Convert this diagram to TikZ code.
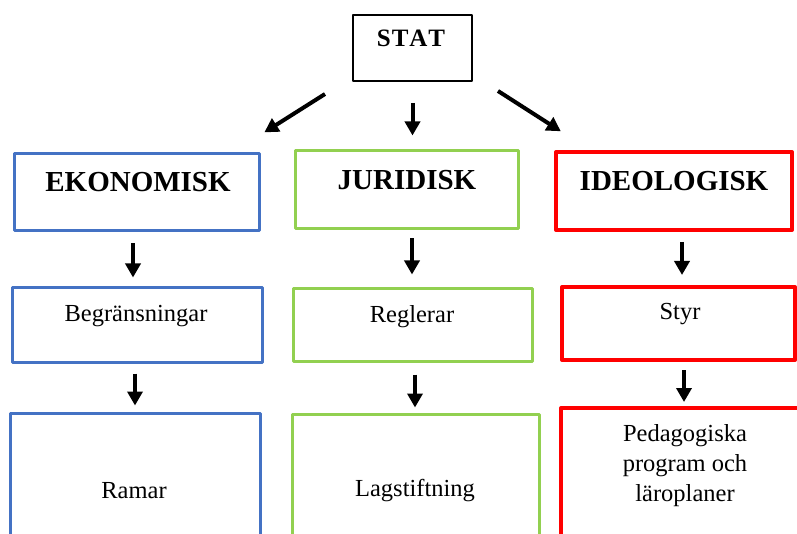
\documentclass[tikz,border=0pt]{standalone}
\usepackage{fontspec}
\setmainfont{Liberation Serif}
\usetikzlibrary{arrows.meta}
\definecolor{oblue}{HTML}{4472C4}
\definecolor{ogreen}{HTML}{92D050}
\definecolor{ored}{HTML}{FF0000}
\begin{document}
\begin{tikzpicture}[x=1pt,y=-1pt,
  box/.style={draw,rectangle,inner sep=0pt,line join=round},
  bbox/.style={box,draw=oblue,line width=3pt},
  gbox/.style={box,draw=ogreen,line width=3pt},
  rbox/.style={box,draw=ored,line width=4pt},
  hd/.style={font=\fontsize{29}{34}\selectfont\bfseries,inner sep=0pt},
  tx/.style={font=\fontsize{24.5}{30}\selectfont,inner sep=0pt,align=center},
  arr/.style={line width=4pt,-{Triangle[length=14pt,width=15pt]}}]
\clip (0,0) rectangle (797,534);
\fill[white] (0,0) rectangle (797,534);
% boxes
\node[box,line width=2pt,minimum width=119pt,minimum height=66pt] (stat) at (412.5,48) {};
\node[bbox,minimum width=245pt,minimum height=77pt] (ek) at (136.5,192.5) {};
\node[gbox,minimum width=223pt,minimum height=78pt] (jur) at (406.5,190) {};
\node[rbox,minimum width=236pt,minimum height=78pt] (ideo) at (674,191) {};
\node[bbox,minimum width=250pt,minimum height=74pt] (beg) at (137,325) {};
\node[gbox,minimum width=239pt,minimum height=72pt] (reg) at (412.5,325) {};
\node[rbox,minimum width=233pt,minimum height=73pt] (styr) at (678.5,323.5) {};
\node[bbox,minimum width=250pt,minimum height=157pt] (ram) at (135,491.5) {};
\node[gbox,minimum width=247pt,minimum height=156pt] (lag) at (415.5,492) {};
\node[rbox,minimum width=249pt,minimum height=162pt] (ped) at (685.5,489) {};
% texts
\node[font=\fontsize{25}{30}\selectfont\bfseries,inner sep=0pt] (statt) at (411,38) {S\kern1ptT\kern1ptA\kern1ptT};
\node[hd] (ekt) at (138,182) {EKONOMISK};
\node[hd] (jurt) at (407,180) {JURIDISK};
\node[hd] (ideot) at (674,181) {IDEOLOGISK};
\node[tx] (begt) at (136,316) {Begränsningar};
\node[tx] (regt) at (412,317) {Reglerar};
\node[tx] (styrt) at (680,314) {Styr};
\node[tx] (ramt) at (134,491) {Ramar};
\node[tx] (lagt) at (415,491) {Lagstiftning};
\node[tx] (pedt) at (685,466) {Pedagogiska\\program och\\läroplaner};
% arrows from STAT
\draw[arr,shorten <=22.5pt,shorten >=37.7pt] ([xshift=-8pt]stat.south west) -- ([xshift=-28pt]ek.north east);
\draw[arr,shorten <=21pt,shorten >=14pt] (stat.south) -- (stat.south |- jur.north);
\draw[arr,shorten <=16.6pt,shorten >=34.7pt] ([xshift=11pt]stat.south east) -- ([xshift=36pt]ideo.north west);
% vertical arrows
\draw[arr,shorten <=11pt,shorten >=9pt] ([xshift=-3.5pt]ek.south) -- ([xshift=-3.5pt]ek.south |- beg.north);
\draw[arr,shorten <=8pt,shorten >=13pt] ([xshift=5.5pt]jur.south) -- ([xshift=5.5pt]jur.south |- reg.north);
\draw[arr,shorten <=10pt,shorten >=10pt] ([xshift=8pt]ideo.south) -- ([xshift=8pt]ideo.south |- styr.north);
\draw[arr,shorten <=10pt,shorten >=6pt] ([xshift=-2pt]beg.south) -- ([xshift=-2pt]beg.south |- ram.north);
\draw[arr,shorten <=12pt,shorten >=5pt] ([xshift=2.5pt]reg.south) -- ([xshift=2.5pt]reg.south |- lag.north);
\draw[arr,shorten <=8pt,shorten >=4pt] ([xshift=5.5pt]styr.south) -- ([xshift=5.5pt]styr.south |- ped.north);
\end{tikzpicture}
\end{document}
